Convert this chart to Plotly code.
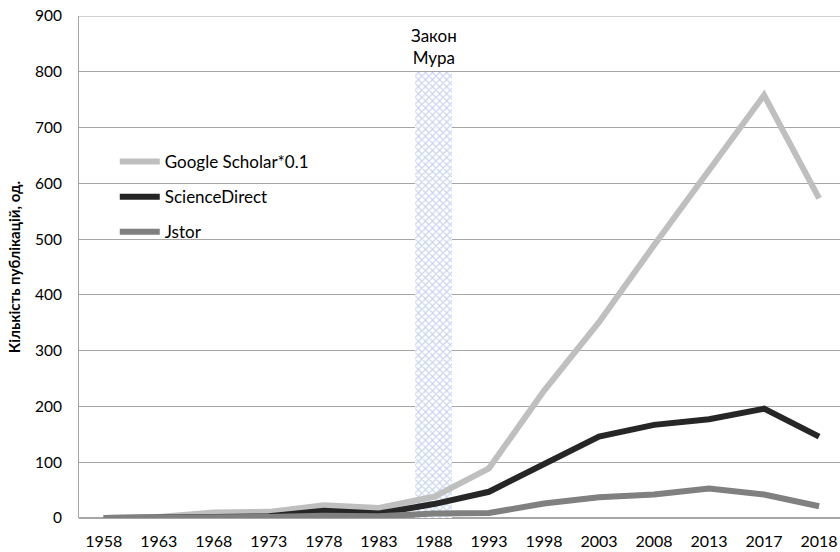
import plotly.graph_objects as go

years = ["1958", "1963", "1968", "1973", "1978", "1983", "1988", "1993",
         "1998", "2003", "2008", "2013", "2017", "2018"]
google_scholar = [0, 2, 10, 11, 23, 18, 38, 89, 228, 351, 489, 625, 758, 573]
science_direct = [0, 0, 2, 3, 13, 8, 25, 47, 98, 146, 167, 177, 196, 146]
jstor = [0, 0, 1, 2, 4, 3, 8, 9, 26, 37, 42, 53, 42, 21]
moore_year = "1988"
moore_value = 800
moore_label = "Закон<br>Мура"
y_ticks = [0, 100, 200, 300, 400, 500, 600, 700, 800, 900]

idx = list(range(len(years)))
moore_idx = years.index(moore_year)

FONT = "Lato, 'Open Sans', sans-serif"
GRID = "#A6A6A6"

fig = go.Figure()
fig.add_trace(go.Bar(
    x=[moore_idx], y=[moore_value], width=0.67, showlegend=False,
    marker=dict(color="white", line=dict(width=0),
                pattern=dict(shape="x", fgcolor="#8AA8DA", bgcolor="white",
                             size=5, solidity=0.4)),
    hoverinfo="skip",
))
series = [("Google Scholar*0.1", google_scholar, "#BFBFBF"),
          ("ScienceDirect", science_direct, "#262626"),
          ("Jstor", jstor, "#808080")]
for name, vals, col in series:
    fig.add_trace(go.Scatter(x=idx, y=vals, mode="lines", name=name, legendgroup=name,
                             line=dict(color=col, width=6)))

fig.add_annotation(x=moore_idx, y=846, text=moore_label, showarrow=False,
                   font=dict(size=17, color="#000000", family=FONT), xref="x", yref="y")

# top gridline at the upper end of the value range
fig.add_shape(type="line", xref="paper", yref="y", x0=0, x1=1, y0=max(y_ticks), y1=max(y_ticks),
              line=dict(color=GRID, width=1), layer="below")

fig.update_layout(
    width=840, height=552,
    margin=dict(l=79, r=0, t=16, b=34),
    paper_bgcolor="white", plot_bgcolor="white",
    font=dict(family=FONT, size=16, color="#000000"),
    legend=dict(x=0.047, y=0.745, xanchor="left", yanchor="top",
                bgcolor="rgba(0,0,0,0)", font=dict(size=17, family=FONT),
                traceorder="grouped", tracegroupgap=10, itemwidth=40),
    xaxis=dict(tickmode="array", tickvals=idx, ticktext=years, range=[-0.45, 13.38],
               showgrid=False, showline=False, zeroline=False, ticks="",
               automargin=False, ticklabelstandoff=12, ticklabeloverflow="allow",
               tickfont=dict(size=16, family=FONT)),
    yaxis=dict(range=[0, 900], tickvals=y_ticks, showgrid=True, gridcolor=GRID,
               gridwidth=1, showline=True, linecolor=GRID, linewidth=1,
               zeroline=True, zerolinecolor=GRID, ticks="",
               automargin=False, ticklabelstandoff=13, ticklabeloverflow="allow",
               tickfont=dict(size=15.5, family=FONT),
               title=dict(text="<b>Кількість публікацій, од.</b>",
                          font=dict(size=15, family=FONT), standoff=10)),
    bargap=0,
)

fig.write_html("out.html", config={"displayModeBar": False},
               post_script="document.body.style.margin='0';document.body.style.padding='0';")
